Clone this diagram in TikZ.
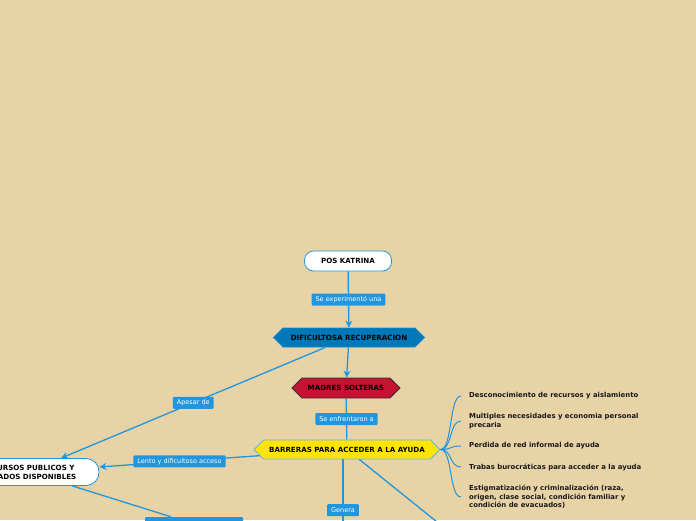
\documentclass[tikz,border=0pt]{standalone}
\usepackage{fontspec}
\setmainfont{DejaVu Sans}
\usepackage{tikz}
\usetikzlibrary{arrows.meta,positioning,shapes.symbols,shapes.misc}
\definecolor{paper}{RGB}{232,211,167}
\definecolor{linkblue}{RGB}{33,150,222}
\definecolor{deepblue}{RGB}{0,119,182}
\definecolor{crimson}{RGB}{196,18,48}
\definecolor{lemon}{RGB}{255,229,0}
\tikzset{
  pill/.style={rounded corners=9pt, draw=linkblue, fill=white, line width=0.8pt, align=center, inner sep=3pt, font=\fontsize{7.1}{9}\selectfont\bfseries},
  hexa/.style={signal, signal to=west and east, line width=0.8pt, align=center, inner sep=3pt, minimum height=19pt, font=\fontsize{7.1}{9}\selectfont\bfseries},
  tag/.style={rounded corners=1pt, fill=linkblue, text=white, inner xsep=4pt, inner ysep=2pt, minimum height=12pt, font=\fontsize{6.5}{8}\selectfont},
  barrier/.style={anchor=west, align=left, inner xsep=8pt, text=black!90, font=\fontsize{6.9}{8.6}\selectfont\bfseries},
  link/.style={draw=linkblue, line width=1.3pt},
  flow/.style={link, -{Stealth[length=7pt,width=7pt]}},
}

\begin{document}
\begin{tikzpicture}[x=1pt,y=-1pt,>=Stealth]
  \useasboundingbox (0,0) rectangle (696,520);
  \clip (0,0) rectangle (696,520);
  \fill[paper] (0,0) rectangle (696,520);
  \node[pill, minimum width=87pt, minimum height=20pt] (pos) at (348,261) {POS KATRINA};
  \node[hexa, fill=deepblue, draw=linkblue!70!deepblue, minimum width=151pt] (dif) at (349,337.5) {DIFICULTOSA RECUPERACION};
  \node[hexa, fill=crimson, draw=black!80, minimum width=108pt, minimum height=20pt] (mad) at (346,388) {MADRES SOLTERAS};
  \node[hexa, fill=lemon, draw=linkblue!70, minimum width=186pt] (bar) at (347,449.5) {BARRERAS PARA ACCEDER A LA AYUDA};
  \node[pill, rounded corners=13pt, minimum width=142pt, minimum height=27pt] (rec) at (28,472) {RECURSOS PUBLICOS Y\\PRIVADOS DISPONIBLES};
  \node[tag, minimum width=98pt, minimum height=14pt] (low) at (194,524) {};
  \coordinate (gen-end) at (343,561);
  \coordinate (diag-end) at (447,530);
  \node[barrier] (b1) at (461,396) {Desconocimiento de recursos y aislamiento};
  \node[barrier] (b2) at (461,421) {Multiples necesidades y economia personal\\precaria};
  \node[barrier] (b3) at (461,446) {Perdida de red informal de ayuda};
  \node[barrier] (b4) at (461,467) {Trabas burocráticas para acceder a la ayuda};
  \node[barrier] (b5) at (461,497) {Estigmatización y criminalización (raza,\\origen, clase social, condición familiar y\\condición de evacuados)};
  \draw[flow] (pos) -- node[tag] (t-exp) {Se experimentó una} (dif);
  \draw[flow] (dif) -- (mad);
  \draw[flow] (dif) -- node[tag] (t-ape) {Apesar de} (rec);
  \draw[link] (mad) -- node[tag] (t-enf) {Se enfrentaron a} (bar);
  \draw[flow] (bar) -- node[tag] (t-len) {Lento y dificultoso acceso} (rec);
  \draw[link] (rec) -- (low);
  \draw[link] (bar.south -| gen-end) -- node[tag] (t-gen) {Genera} (gen-end);
  \draw[link] (bar) -- (diag-end);
  \foreach \b in {b1,b2,b3,b4,b5}
    \draw[link, line width=1pt] (bar.east) .. controls +(12,0) and +(-12,0) .. (\b.west);
\end{tikzpicture}
\end{document}
